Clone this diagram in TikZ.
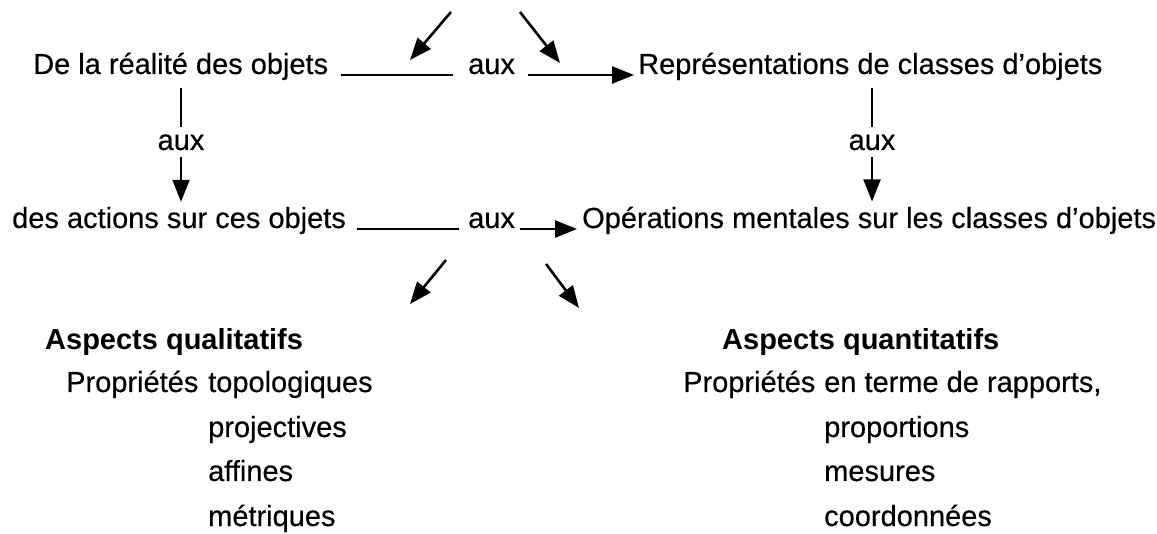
\documentclass[tikz,border=0pt]{standalone}
\usepackage{fontspec}
\setmainfont{Liberation Sans}[UprightFeatures={FakeBold=0.4}]
\usetikzlibrary{arrows.meta,positioning,calc}

\begin{document}
\begin{tikzpicture}[x=1pt,y=-1pt,
    txt/.style={font=\fontsize{29}{33}\selectfont, inner sep=0pt, anchor=base west},
    head/.style={txt, font=\fontsize{29}{33}\selectfont\bfseries},
    link/.style={line width=2pt},
    arr/.style={line width=2.6pt, -{Triangle[length=22pt,width=17pt]}}]
    \useasboundingbox (0,0) rectangle (1157,534);

    % first row
    \node[txt] (realite) at (33,74) {De la réalité des objets};
    \node[txt] (auxA) at (468,74) {aux};
    \node[txt] (repr) at (638,74) {Représentations de classes d’objets};
    \draw[link] ([xshift=13pt,yshift=-1pt]realite.base east) -- ([xshift=-15pt,yshift=-1pt]auxA.base west);
    \draw[arr] ([xshift=13pt,yshift=-1pt]auxA.base east) -- ([xshift=-4pt,yshift=-1pt]repr.base west);

    % arrows coming in from above
    \coordinate (inA) at (451,12);
    \coordinate (inAend) at (410,60);
    \coordinate (inB) at (520,12);
    \coordinate (inBend) at (560,63);
    \draw[arr] (inA) -- (inAend);
    \draw[arr] (inB) -- (inBend);

    % vertical links
    \node[txt, anchor=base] (auxL) at (181,150) {aux};
    \node[txt, anchor=base] (auxR) at (872,150) {aux};

    % second row
    \node[txt] (actions) at (12,228) {des actions sur ces objets};
    \node[txt] (auxB) at (468,228) {aux};
    \node[txt] (oper) at (582,228) {Opérations mentales sur les classes d’objets};
    \draw[link] ([xshift=11pt,yshift=-1pt]actions.base east) -- ([xshift=-9pt,yshift=-1pt]auxB.base west);
    \draw[arr] ([xshift=5pt,yshift=-1pt]auxB.base east) -- ([xshift=-5pt,yshift=-1pt]oper.base west);

    \draw[link, shorten <=8pt, shorten >=7pt] (realite.south -| auxL) -- (auxL.north);
    \draw[arr, line width=2pt, shorten <=7pt, shorten >=5pt] (auxL.south) -- (actions.north -| auxL);
    \draw[link, shorten <=8pt, shorten >=7pt] (repr.south -| auxR) -- (auxR.north);
    \draw[arr, line width=2pt, shorten <=7pt, shorten >=5pt] (auxR.south) -- (oper.north -| auxR);

    % arrows going down
    \coordinate (outA) at (446,260);
    \coordinate (outAend) at (410,304);
    \coordinate (outB) at (546,264);
    \coordinate (outBend) at (579,308);
    \draw[arr] (outA) -- (outAend);
    \draw[arr] (outB) -- (outBend);

    % qualitative side
    \node[head] (qual) at (45,350) {Aspects qualitatifs};
    \node[txt] (propA) at (66,392) {Propriétés};
    \node[txt] (topo) at (208,392) {topologiques};
    \node[txt] (proj) at (208,437) {projectives};
    \node[txt] (aff) at (208,481) {affines};
    \node[txt] (metr) at (208,526) {métriques};

    % quantitative side
    \node[head] (quant) at (722,350) {Aspects quantitatifs};
    \node[txt] (propB) at (683,392) {Propriétés};
    \node[txt] (rapp) at (824,392) {en terme de rapports,};
    \node[txt] (propo) at (824,437) {proportions};
    \node[txt] (mes) at (824,481) {mesures};
    \node[txt] (coord) at (824,526) {coordonnées};
\end{tikzpicture}
\end{document}
